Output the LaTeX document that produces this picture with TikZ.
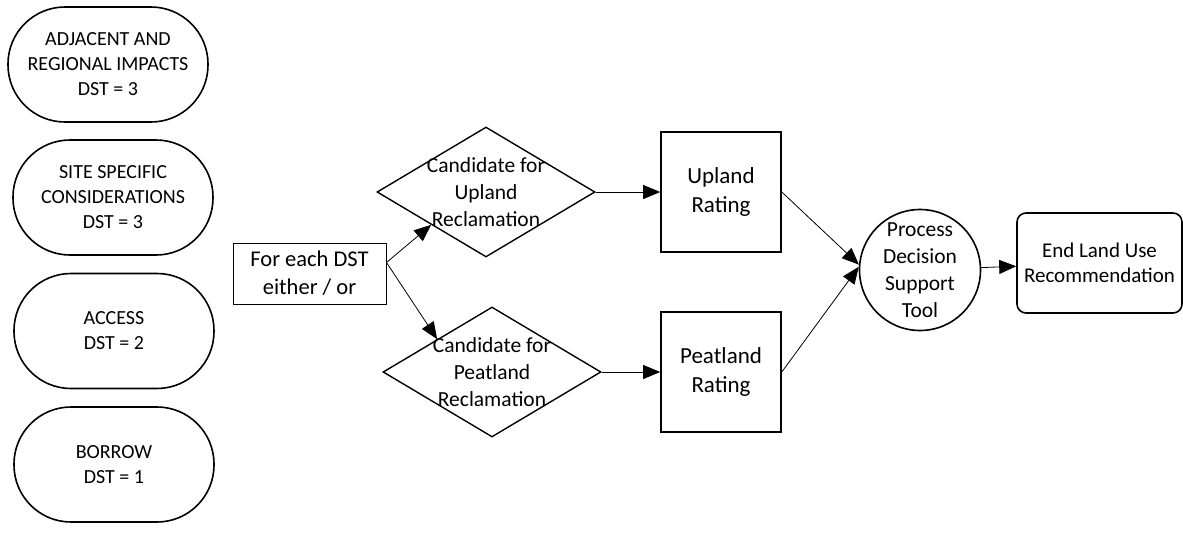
\documentclass[tikz,border=0pt]{standalone}
\usepackage{fontspec}
\setmainfont{Carlito}
\usetikzlibrary{shapes.geometric,arrows.meta}
\begin{document}
\begin{tikzpicture}[x=1pt,y=-1pt,
  shp/.style={draw=black,line width=1.6pt},
  stad/.style={shp,rounded corners=57pt,minimum width=200pt,minimum height=115pt,inner sep=0pt,align=center,font=\fontsize{20}{25}\selectfont},
  dia/.style={shp,line width=1.4pt,diamond,minimum width=218pt,minimum height=130pt,inner sep=0pt},
  diatxt/.style={align=center,inner sep=0pt,font=\fontsize{21.5}{27}\selectfont},
  sq/.style={shp,rectangle,minimum width=120pt,minimum height=120pt,inner sep=0pt,align=center,font=\fontsize{23}{29}\selectfont},
  conn/.style={line width=0.8pt,-{Triangle[length=17pt,width=14pt]}}]
\useasboundingbox (0,0) rectangle (1183,546);
% left column
\node[stad] (adj) at (108,64.5) {ADJACENT AND\\REGIONAL IMPACTS\\DST = 3};
\node[stad] (site) at (113,197.5) {SITE SPECIFIC\\CONSIDERATIONS\\DST = 3};
\node[stad] (acc) at (114,331) {ACCESS\\DST = 2};
\node[stad] (bor) at (114,464.5) {BORROW\\DST = 1};
% for each DST
\node[draw=black,line width=1pt,rectangle,minimum width=153pt,minimum height=61pt,inner sep=0pt,align=center,font=\fontsize{22.5}{28}\selectfont] (fed) at (309.5,273.5) {For each DST\\either / or};
% diamonds
\node[dia] (ud) at (486,192) {};
\node[diatxt] (udt) at (ud.center) {Candidate for\\Upland\\Reclamation};
\node[dia] (pd) at (492,372) {};
\node[diatxt] (pdt) at (pd.center) {Candidate for\\Peatland\\Reclamation};
% rating boxes
\node[sq] (ur) at (721,192) {Upland\\Rating};
\node[sq] (pr) at (721,372) {Peatland\\Rating};
% process circle
\node[shp,circle,minimum size=121pt,inner sep=0pt] (pdst) at (920,270) {};
\node[align=center,inner sep=0pt,font=\fontsize{21.5}{27}\selectfont] (pdstt) at (pdst.center) {Process\\Decision\\Support\\Tool};
% end box
\node[shp,rectangle,rounded corners=9pt,minimum width=165pt,minimum height=100pt,inner sep=0pt,align=center,font=\fontsize{21}{25}\selectfont] (end) at (1099.5,263) {End Land Use\\Recommendation};
% connectors
\coordinate (fedout) at ([yshift=11pt]fed.east);
\draw[conn] (fedout) -- (ud.south west);
\draw[conn] (fedout) -- (pd.north west);
\draw[conn] (ud.east) -- (ur.west);
\draw[conn] (pd.east) -- (pr.west);
\draw[conn] (ur.east) -- (pdst.175);
\draw[conn] (pr.east) -- (pdst.177);
\draw[conn] (pdst) -- (end);
\end{tikzpicture}
\end{document}
